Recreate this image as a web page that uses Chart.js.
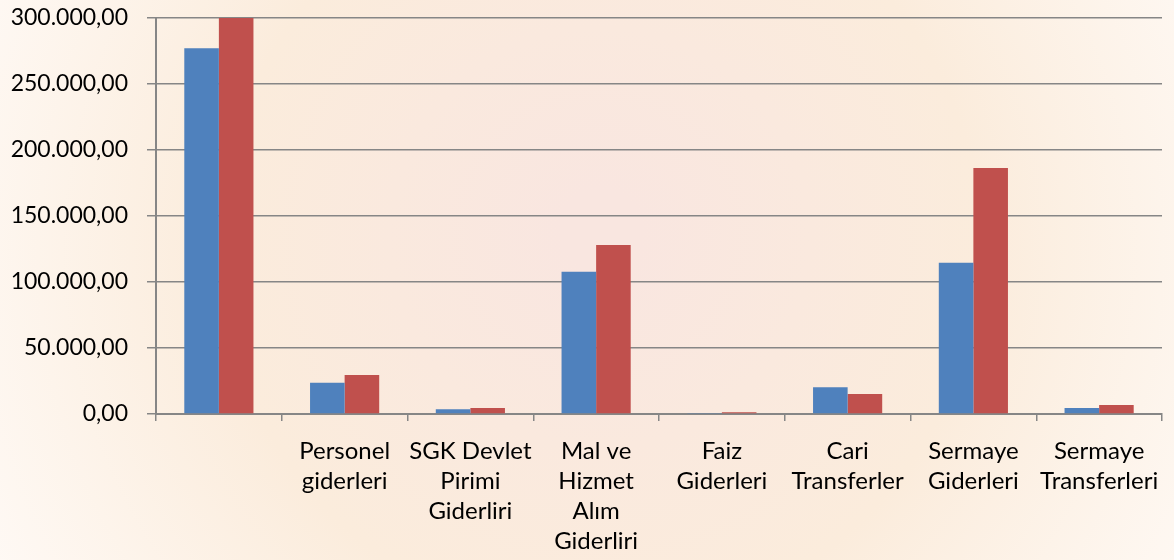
<!DOCTYPE html>
<html>
<head>
<meta charset="utf-8">
<script src="https://cdn.jsdelivr.net/npm/chart.js@4/dist/chart.umd.min.js"></script>
<style>
  html, body { margin: 0; padding: 0; background: #fff; }
  #wrap { width: 1174px; height: 560px; position: relative; }
</style>
</head>
<body>
<div id="wrap"><canvas id="chart"></canvas></div>
<script>
// categories (multi-line labels as in the original)
const categories = [
  [""],
  ["Personel", "giderleri"],
  ["SGK Devlet", "Pirimi", "Giderliri"],
  ["Mal ve", "Hizmet", "Alım", "Giderliri"],
  ["Faiz", "Giderleri"],
  ["Cari", "Transferler"],
  ["Sermaye", "Giderleri"],
  ["Sermaye", "Transferleri"]
];

// two series, values
const seriesBlue = [277000, 23700, 3600, 107800, 400, 20200, 114600, 4500];
const seriesRed = [300000, 29500, 4500, 128000, 1300, 15200, 186400, 6800];

const yTicks = [0, 50000, 100000, 150000, 200000, 250000, 300000];

const formatTr = (v) => v.toLocaleString("tr-TR", { minimumFractionDigits: 2, maximumFractionDigits: 2 });

const backdrop = {
  id: "backdrop",
  beforeDraw(chart) {
    const ctx = chart.ctx;
    const w = chart.width, h = chart.height;
    ctx.save();
    const g = ctx.createRadialGradient(600, 230, 40, 600, 260, 720);
    g.addColorStop(0, "#f9e6e0");
    g.addColorStop(0.5, "#fbecdc");
    g.addColorStop(1, "#fffbf8");
    ctx.fillStyle = g;
    ctx.fillRect(0, 0, w, h);
    ctx.restore();
  }
};

new Chart(document.getElementById("chart").getContext("2d"), {
  type: "bar",
  data: {
    labels: categories,
    datasets: [
      { label: "Seri 1", data: seriesBlue, backgroundColor: "#4f81bd" },
      { label: "Seri 2", data: seriesRed, backgroundColor: "#c0504d" }
    ]
  },
  options: {
    responsive: true,
    maintainAspectRatio: false,
    animation: false,
    layout: { padding: { top: 18, right: 12, left: 0, bottom: 0 } },
    plugins: {
      legend: { display: false },
      tooltip: { enabled: false }
    },
    datasets: {
      bar: { categoryPercentage: 0.55, barPercentage: 1.0 }
    },
    scales: {
      x: {
        offset: true,
        grid: {
          offset: true,
          drawOnChartArea: false,
          drawTicks: true,
          tickLength: 7,
          color: "#868686",
          lineWidth: 1.5
        },
        border: { color: "#868686", width: 2 },
        ticks: {
          color: "#000",
          font: { family: "Lato", size: 24, lineHeight: 1.25 },
          padding: 15,
          maxRotation: 0,
          autoSkip: false
        },
        afterFit(scale) { scale.height = 146; }
      },
      y: {
        min: 0,
        max: 300000,
        afterBuildTicks(scale) { scale.ticks = yTicks.map((v) => ({ value: v })); },
        grid: {
          color: "#868686",
          lineWidth: 1.5,
          tickLength: 9
        },
        border: { color: "#868686", width: 2 },
        ticks: {
          color: "#000",
          font: { family: "Lato", size: 23 },
          padding: 19,
          callback: (v) => formatTr(v)
        },
        afterFit(scale) {
          scale.width = 156;
          scale.paddingTop = 0;
          scale.paddingBottom = 0;
        }
      }
    }
  },
  plugins: [backdrop]
});
</script>
</body>
</html>
